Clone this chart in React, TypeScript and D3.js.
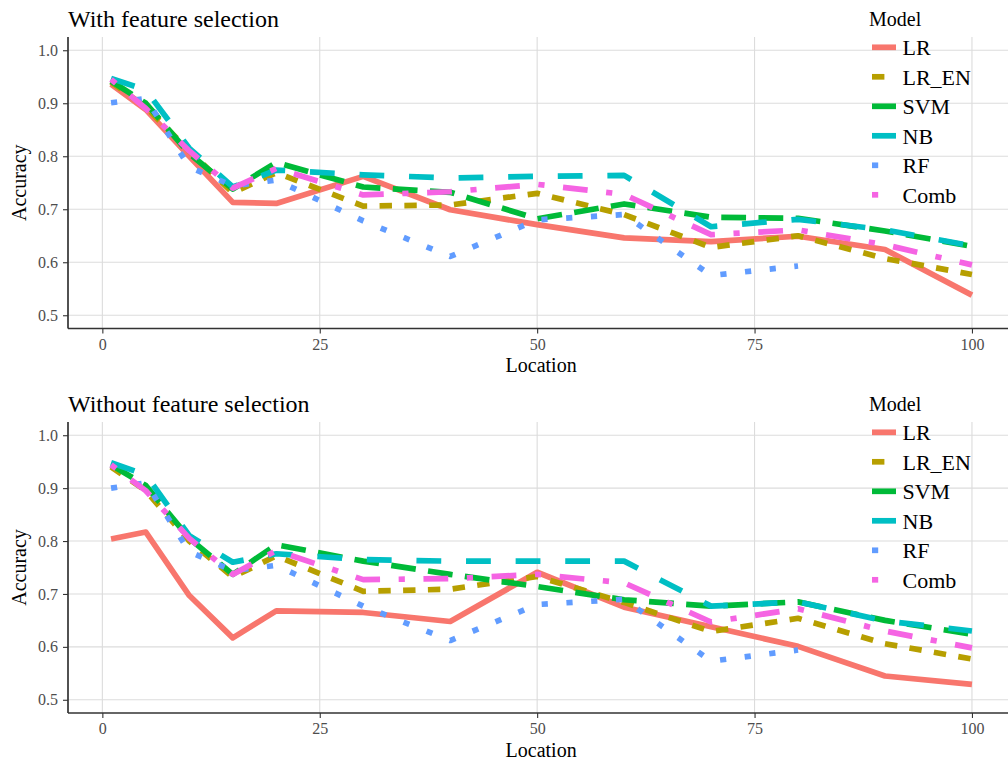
import * as d3 from "d3";
import { useEffect, useRef } from "react";

const locations = [1, 5, 10, 15, 20, 30, 40, 50, 60, 70, 80, 90, 100];
const models = ["LR", "LR_EN", "SVM", "NB", "RF", "Comb"];
const modelColors = ["#F8766D", "#B79F00", "#00BA38", "#00BFC4", "#619CFF", "#F564E3"];
// ggplot default linetypes: solid, 22, 42, 44, 13, 1343
const dashUnits = [[], [2, 2], [4, 2], [4, 4], [1, 3], [1, 3, 4, 3]];
const xTicks = [0, 25, 50, 75, 100];
const yTicks = [0.5, 0.6, 0.7, 0.8, 0.9, 1.0];

// With feature selection
const withLR = [0.936, 0.888, 0.8, 0.713, 0.711, 0.762, 0.699, 0.671, 0.646, 0.639, 0.649, 0.624, 0.538];
const withLREN = [0.94, 0.893, 0.81, 0.731, 0.769, 0.706, 0.708, 0.73, 0.69, 0.628, 0.65, 0.607, 0.577];
const withSVM = [0.942, 0.9, 0.805, 0.738, 0.788, 0.742, 0.732, 0.682, 0.71, 0.685, 0.683, 0.659, 0.63];
const withNB = [0.947, 0.925, 0.815, 0.742, 0.774, 0.765, 0.759, 0.762, 0.764, 0.667, 0.681, 0.661, 0.631];
const withRF = [0.901, 0.909, 0.78, 0.744, 0.755, 0.678, 0.611, 0.68, 0.69, 0.575, 0.593, null, null];
const withComb = [0.945, 0.89, 0.81, 0.74, 0.777, 0.727, 0.733, 0.747, 0.728, 0.652, 0.661, 0.633, 0.595];

// Without feature selection
const withoutLR = [0.804, 0.817, 0.697, 0.617, 0.668, 0.665, 0.648, 0.741, 0.675, 0.638, 0.601, 0.545, 0.529];
const withoutLREN = [0.94, 0.895, 0.8, 0.732, 0.772, 0.705, 0.709, 0.733, 0.684, 0.629, 0.654, 0.606, 0.577];
const withoutSVM = [0.944, 0.905, 0.805, 0.737, 0.793, 0.762, 0.737, 0.714, 0.689, 0.677, 0.685, 0.65, 0.624];
const withoutNB = [0.948, 0.925, 0.81, 0.76, 0.776, 0.765, 0.762, 0.762, 0.762, 0.677, 0.685, 0.649, 0.63];
const withoutRF = [0.9, 0.91, 0.78, 0.744, 0.754, 0.677, 0.612, 0.68, 0.69, 0.573, 0.594, null, null];
const withoutComb = [0.944, 0.895, 0.805, 0.737, 0.782, 0.727, 0.729, 0.737, 0.721, 0.647, 0.672, 0.63, 0.598];

const panels = [
	{ title: "With feature selection", series: [withLR, withLREN, withSVM, withNB, withRF, withComb] },
	{ title: "Without feature selection", series: [withoutLR, withoutLREN, withoutSVM, withoutNB, withoutRF, withoutComb] },
];

const W = 1008;
const H = 763;
const FONT = "'Liberation Serif', 'Times New Roman', serif";
const LW = 5.7;
const UNIT = 6.2;

export default function App() {
	const svgRef = useRef<SVGSVGElement>(null);

	useEffect(() => {
		const svg = d3.select(svgRef.current);
		if (!svg.node()) return;
		svg.selectAll("*").remove();

		const x = d3.scaleLinear().domain([-3.95, 104.95]).range([68, 1015]);
		const panelTops = [37, 422];
		const panelBottoms = [328.5, 713];

		panels.forEach((panel, p) => {
			const top = panelTops[p];
			const bottom = panelBottoms[p];
			const y = d3.scaleLinear().domain([0.475, 1.025]).range([bottom, top]);
			const g = svg.append("g");

			// grid
			g.selectAll(".hgrid")
				.data(yTicks)
				.join("line")
				.attr("x1", 68)
				.attr("x2", W)
				.attr("y1", (d) => y(d))
				.attr("y2", (d) => y(d))
				.attr("stroke", "#DCDCDC")
				.attr("stroke-width", 1.1);
			g.selectAll(".vgrid")
				.data(xTicks)
				.join("line")
				.attr("x1", (d) => x(d))
				.attr("x2", (d) => x(d))
				.attr("y1", top)
				.attr("y2", bottom)
				.attr("stroke", "#DCDCDC")
				.attr("stroke-width", 1.1);

			// lines
			const line = d3
				.line<number | null>()
				.defined((d) => d !== null)
				.x((_, i) => x(locations[i]))
				.y((d) => y(d as number));

			panel.series.forEach((vals, i) => {
				g.append("path")
					.attr("d", line(vals))
					.attr("fill", "none")
					.attr("stroke", modelColors[i])
					.attr("stroke-width", LW)
					.attr("stroke-linecap", "butt")
					.attr("stroke-linejoin", "round")
					.attr("stroke-dasharray", dashUnits[i].length ? dashUnits[i].map((u) => u * UNIT).join(",") : null);
			});

			// axes
			const yAxis = d3
				.axisLeft(y)
				.tickValues(yTicks)
				.tickFormat(d3.format(".1f"))
				.tickSize(5)
				.tickSizeOuter(0)
				.tickPadding(5);
			const xAxis = d3
				.axisBottom(x)
				.tickValues(xTicks)
				.tickFormat(d3.format("d"))
				.tickSize(5)
				.tickSizeOuter(0)
				.tickPadding(5);

			const ya = g.append("g").attr("transform", "translate(68,0)").call(yAxis);
			const xa = g.append("g").attr("transform", `translate(0,${bottom})`).call(xAxis);
			[ya, xa].forEach((a) => {
				a.select(".domain").remove();
				a.selectAll(".tick line").attr("stroke", "#333").attr("stroke-width", 1.1);
				a.selectAll(".tick text")
					.attr("fill", "#4D4D4D")
					.style("font-family", FONT)
					.style("font-size", "16px");
			});
			g.append("line")
				.attr("x1", 68)
				.attr("x2", 68)
				.attr("y1", top)
				.attr("y2", bottom)
				.attr("stroke", "#333")
				.attr("stroke-width", 1.7);
			g.append("line")
				.attr("x1", 68)
				.attr("x2", W)
				.attr("y1", bottom)
				.attr("y2", bottom)
				.attr("stroke", "#333")
				.attr("stroke-width", 1.7);

			// titles
			g.append("text")
				.attr("x", 68)
				.attr("y", top - 10.5)
				.style("font-family", FONT)
				.style("font-size", "24px")
				.attr("fill", "#000")
				.text(panel.title);
			g.append("text")
				.attr("x", x(50) + 4)
				.attr("y", bottom + 43.5)
				.attr("text-anchor", "middle")
				.style("font-family", FONT)
				.style("font-size", "20px")
				.text("Location");
			g.append("text")
				.attr("transform", `translate(26,${(top + bottom) / 2}) rotate(-90)`)
				.attr("text-anchor", "middle")
				.style("font-family", FONT)
				.style("font-size", "20px")
				.text("Accuracy");

			// legend
			const lg = g.append("g");
			lg.append("text")
				.attr("x", 869)
				.attr("y", top - 11)
				.style("font-family", FONT)
				.style("font-size", "20px")
				.text("Model");
			models.forEach((m, i) => {
				const cy = top + 10.3 + 29.5 * i;
				lg.append("line")
					.attr("x1", 872)
					.attr("x2", 896)
					.attr("y1", cy)
					.attr("y2", cy)
					.attr("stroke", modelColors[i])
					.attr("stroke-width", LW)
					.attr("stroke-dasharray", dashUnits[i].length ? dashUnits[i].map((u) => u * UNIT).join(",") : null);
				lg.append("text")
					.attr("x", 902.5)
					.attr("y", cy + 7.7)
					.style("font-family", FONT)
					.style("font-size", "22px")
					.text(m);
			});
		});
	}, []);

	return (
		<svg
			ref={svgRef}
			width={W}
			height={H}
			style={{ position: "absolute", left: 0, top: 0, background: "#fff" }}
		/>
	);
}
